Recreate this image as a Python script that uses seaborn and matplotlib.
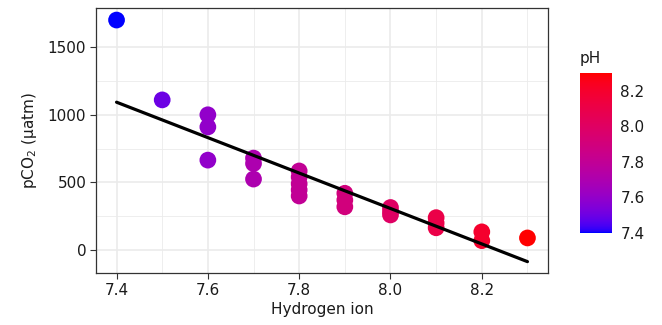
import numpy as np
import pandas as pd
import matplotlib
matplotlib.use("Agg")
import matplotlib.pyplot as plt
from matplotlib.colors import ListedColormap, Normalize
from matplotlib.cm import ScalarMappable
import seaborn as sns

# pH readings (also used as the colour variable) and measured pCO2
ph = [7.4,
      7.5,
      7.6, 7.6, 7.6,
      7.7, 7.7, 7.7,
      7.8, 7.8, 7.8, 7.8, 7.8,
      7.9, 7.9, 7.9,
      8.0, 8.0, 8.0,
      8.1, 8.1, 8.1,
      8.2, 8.2,
      8.3]
pco2 = [1700,
        1110,
        1000, 910, 665,
        680, 640, 525,
        585, 540, 490, 445, 400,
        420, 370, 320,
        315, 285, 260,
        240, 200, 165,
        135, 70,
        90]

# linear trend line endpoints
trend_x = [7.4, 8.3]
trend_y = [1093, -85]

x_ticks = [7.4, 7.6, 7.8, 8.0, 8.2]
y_ticks = [0, 500, 1000, 1500]
cbar_ticks = [7.4, 7.6, 7.8, 8.0, 8.2]

df = pd.DataFrame({"ph": ph, "pco2": pco2})


# blue -> red gradient interpolated in CIE Lab space
def _srgb_to_lab(rgb):
    rgb = np.asarray(rgb, float)
    lin = np.where(rgb <= 0.04045, rgb / 12.92, ((rgb + 0.055) / 1.055) ** 2.4)
    m = np.array([[0.4124, 0.3576, 0.1805],
                  [0.2126, 0.7152, 0.0722],
                  [0.0193, 0.1192, 0.9505]])
    xyz = m @ lin
    wp = np.array([0.95047, 1.0, 1.08883])
    t = xyz / wp
    f = np.where(t > (6 / 29) ** 3, np.cbrt(t), t / (3 * (6 / 29) ** 2) + 4 / 29)
    return np.array([116 * f[1] - 16, 500 * (f[0] - f[1]), 200 * (f[1] - f[2])])


def _lab_to_srgb(lab):
    L, a, b = lab
    fy = (L + 16) / 116
    fx = fy + a / 500
    fz = fy - b / 200
    f = np.array([fx, fy, fz])
    t = np.where(f > 6 / 29, f ** 3, 3 * (6 / 29) ** 2 * (f - 4 / 29))
    xyz = t * np.array([0.95047, 1.0, 1.08883])
    minv = np.array([[3.2406, -1.5372, -0.4986],
                     [-0.9689, 1.8758, 0.0415],
                     [0.0557, -0.2040, 1.0570]])
    lin = minv @ xyz
    lin = np.clip(lin, 0, 1)
    rgb = np.where(lin <= 0.0031308, 12.92 * lin, 1.055 * lin ** (1 / 2.4) - 0.055)
    return np.clip(rgb, 0, 1)


lab_lo = _srgb_to_lab([0, 0, 1])
lab_hi = _srgb_to_lab([1, 0, 0])
colors = [_lab_to_srgb(lab_lo + (lab_hi - lab_lo) * s) for s in np.linspace(0, 1, 256)]
cmap = ListedColormap(colors)
norm = Normalize(vmin=7.4, vmax=8.3)

sns.set_theme(style="white")
plt.rcParams["font.family"] = ["DejaVu Sans"]

fig = plt.figure(figsize=(6.62, 3.25), dpi=100)
ax = fig.add_axes([96 / 662, 52 / 325, 452 / 662, 265 / 325])

# grid: major and minor lines
for v in [7.5, 7.7, 7.9, 8.1, 8.3]:
    ax.axvline(v, color="#EBEBEB", lw=0.6, zorder=0)
for v in [250, 750, 1250]:
    ax.axhline(v, color="#EBEBEB", lw=0.6, zorder=0)
for v in x_ticks:
    ax.axvline(v, color="#EBEBEB", lw=1.2, zorder=0)
for v in y_ticks:
    ax.axhline(v, color="#EBEBEB", lw=1.2, zorder=0)

sns.scatterplot(data=df, x="ph", y="pco2", hue="ph", palette=cmap,
                hue_norm=norm, s=145, linewidth=0, legend=False, ax=ax, zorder=3)
sns.lineplot(x=trend_x, y=trend_y, color="black", lw=2.3, ax=ax, zorder=4)

ax.set_xlim(7.355, 8.345)
ax.set_ylim(-169, 1789)
ax.set_xticks(x_ticks)
ax.set_xticklabels([f"{v:.1f}" for v in x_ticks])
ax.set_yticks(y_ticks)
ax.set_yticklabels([str(v) for v in y_ticks])
ax.tick_params(axis="both", which="major", direction="out", length=4, width=0.8,
               color="#333333", labelsize=11, labelcolor="#1a1a1a", pad=3,
               bottom=True, left=True)
for sp in ax.spines.values():
    sp.set_visible(True)
    sp.set_color("#333333")
    sp.set_linewidth(0.9)
ax.set_xlabel("Hydrogen ion", fontsize=11, color="#1a1a1a", labelpad=3)
ax.set_ylabel("pCO$_2$ (µatm)", fontsize=11, color="#1a1a1a", labelpad=6)

# colour bar
cax = fig.add_axes([580 / 662, 92 / 325, 32 / 662, 160 / 325])
cb = fig.colorbar(ScalarMappable(norm=norm, cmap=cmap), cax=cax, ticks=cbar_ticks)
cb.outline.set_visible(False)
cax.set_yticklabels([f"{v:.1f}" for v in cbar_ticks])
cax.tick_params(axis="y", which="both", direction="in", length=6, width=0.8,
                color="white", left=True, right=True, labelleft=False,
                labelright=True, labelsize=11, labelcolor="#1a1a1a", pad=6)
cax.minorticks_off()
fig.text(580 / 662, (325 - 59) / 325, "pH", ha="left", va="center",
         fontsize=11, color="#1a1a1a")

fig.savefig("out.png", dpi=100)
